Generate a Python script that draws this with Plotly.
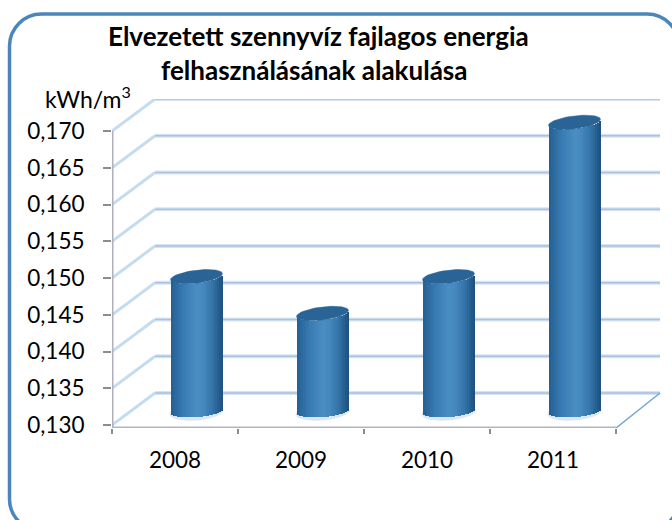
import numpy as np
import plotly.graph_objects as go

years = ["2008", "2009", "2010", "2011"]
values = [0.148, 0.143, 0.148, 0.169]
y_ticks = [0.130, 0.135, 0.140, 0.145, 0.150, 0.155, 0.160, 0.165, 0.170]
y_labels = ["0,130", "0,135", "0,140", "0,145", "0,150", "0,155", "0,160", "0,165", "0,170"]
title_lines = ["Elvezetett szennyvíz fajlagos energia", "felhasználásának alakulása"]
unit_label = "kWh/m<sup>3</sup>"

W, H = 672, 520
L, R, T, B = 112, 662, 99, 428      # plot box in pixels
PX_PER_CAT = 126.0
PX_PER_VAL = 294.0 / 0.04
Y0 = 0.130

dxu = lambda px: px / PX_PER_CAT
dyu = lambda px: px / PX_PER_VAL
y_min = Y0 - dyu(3)
y_max = y_min + dyu(B - T)
x_max = dxu(R - L)
DEPTH_X, DEPTH_Y = 43, 32
FONT = "Lato"

shapes = []


def seg(pts, color, width):
    path = "M" + " L".join(f"{x:.5f},{y:.6f}" for x, y in pts)
    shapes.append(dict(type="path", path=path, xref="x", yref="y", layer="below",
                       line=dict(color=color, width=width)))


# walls / gridlines
for v in y_ticks:
    back = v + dyu(DEPTH_Y)
    seg([(0, v), (dxu(DEPTH_X), back)], "#c3dcef", 3)
    seg([(dxu(DEPTH_X), back), (dxu(R - L - 2), back)], "#d6e4f2", 4)
for v in y_ticks:
    back = v + dyu(DEPTH_Y)
    seg([(dxu(DEPTH_X), back), (dxu(R - L - 2), back)], "#a9c2dd", 1.5)
seg([(4, y_min), (4 + dxu(44), Y0 + dyu(DEPTH_Y))], "#6fa6d6", 1.5)
seg([(0, y_min), (4, y_min)], "#b4b4c2", 3)
seg([(0, y_min), (0, y_ticks[-1])], "#b0b0bc", 3)

# outer rounded frame (paper coordinates)
px = lambda x: (x - L) / (R - L)
py = lambda y: (B - y) / (B - T)
fx0, fx1, fy0, fy1, rad = 9.5, 679, 14, 531, 32
k = rad * 0.45
frame = (
    f"M{px(fx0 + rad)},{py(fy0)} L{px(fx1 - rad)},{py(fy0)} "
    f"C{px(fx1 - k)},{py(fy0)} {px(fx1)},{py(fy0 + k)} {px(fx1)},{py(fy0 + rad)} "
    f"L{px(fx1)},{py(fy1 - rad)} "
    f"C{px(fx1)},{py(fy1 - k)} {px(fx1 - k)},{py(fy1)} {px(fx1 - rad)},{py(fy1)} "
    f"L{px(fx0 + rad)},{py(fy1)} "
    f"C{px(fx0 + k)},{py(fy1)} {px(fx0)},{py(fy1 - k)} {px(fx0)},{py(fy1 - rad)} "
    f"L{px(fx0)},{py(fy0 + rad)} "
    f"C{px(fx0)},{py(fy0 + k)} {px(fx0 + k)},{py(fy0)} {px(fx0 + rad)},{py(fy0)} Z"
)
shapes.append(dict(type="path", path=frame, xref="paper", yref="paper", layer="above",
                   line=dict(color="#4a86bb", width=3.5)))

# cylinders
A = 26.0        # half width, px
B_TOP, S_TOP = 6.5, 3.0
B_BOT, S_BOT = 6.0, 2.0
TOP_SHIFT, BASE_SHIFT = 16, 14
centers = [i + 0.5 + dxu(21.5) for i in range(len(years))]

grad_pos = [0.0, 0.06, 0.25, 0.5, 0.62, 0.8, 0.93, 1.0]
grad_rgb = np.array([
    [0x24, 0x5e, 0x90], [0x2a, 0x68, 0x9c], [0x38, 0x7c, 0xb4], [0x4a, 0x8e, 0xc3],
    [0x46, 0x89, 0xbe], [0x35, 0x74, 0xa8], [0x25, 0x5c, 0x8c], [0x1f, 0x50, 0x80],
])

fig = go.Figure()

# soft halo below each foot
for c in centers:
    t = np.linspace(0, 2 * np.pi, 40)
    xs = c + dxu(A + 1) * np.cos(t)
    ys = Y0 + dyu(BASE_SHIFT) + dyu(S_BOT) * np.cos(t) + dyu(B_BOT + 2.5) * np.sin(t) - dyu(1)
    path = "M" + " L".join(f"{x:.5f},{y:.6f}" for x, y in zip(xs, ys)) + " Z"
    shapes.append(dict(type="path", path=path, xref="x", yref="y", layer="below",
                       fillcolor="#dbe8f4", line=dict(width=0)))

N = 26
for j in range(N):
    u = (j + 0.5) / N * 2 - 1
    rgb = [np.interp((u + 1) / 2, grad_pos, grad_rgb[:, ch]) for ch in range(3)]
    color = "rgb(%d,%d,%d)" % tuple(rgb)
    root = np.sqrt(1 - u * u)
    base = Y0 + dyu(BASE_SHIFT) + dyu(S_BOT * u - B_BOT * root)
    tops = [v + dyu(TOP_SHIFT) + dyu(S_TOP * u) - dyu(B_TOP * root) for v in values]
    fig.add_trace(go.Bar(
        x=[c + u * dxu(A) for c in centers],
        y=[tp - base for tp in tops],
        base=[base] * len(values),
        width=dxu(2 * A / N),
        marker=dict(color=color, line=dict(width=0)),
        hoverinfo="skip", showlegend=False,
    ))

# cylinder caps
for c, v in zip(centers, values):
    t = np.linspace(0, 2 * np.pi, 60)
    fig.add_trace(go.Scatter(
        x=c + dxu(A) * np.cos(t),
        y=v + dyu(TOP_SHIFT) + dyu(S_TOP) * np.cos(t) + dyu(B_TOP) * np.sin(t),
        mode="lines", fill="toself", fillcolor="#2a6497",
        line=dict(color="#2a6497", width=0.5),
        hoverinfo="skip", showlegend=False,
    ))

annotations = [
    dict(text=title_lines[0], x=px(318), y=py(36), xref="paper", yref="paper",
         showarrow=False, xanchor="center", yanchor="middle",
         font=dict(family=FONT, size=26, color="#000000", weight="bold")),
    dict(text=title_lines[1], x=px(314), y=py(70), xref="paper", yref="paper",
         showarrow=False, xanchor="center", yanchor="middle",
         font=dict(family=FONT, size=26, color="#000000", weight="bold")),
    dict(text=unit_label, x=px(88), y=py(98), xref="paper", yref="paper",
         showarrow=False, xanchor="center", yanchor="middle",
         font=dict(family=FONT, size=23, color="#000000")),
]

fig.update_layout(
    width=W, height=H,
    margin=dict(l=L, r=W - R, t=T, b=H - B, pad=0),
    paper_bgcolor="#ffffff", plot_bgcolor="#ffffff",
    barmode="overlay", bargap=0,
    shapes=shapes, annotations=annotations,
    xaxis=dict(
        range=[0, x_max], showgrid=False, zeroline=False, showline=False,
        tickmode="array", tickvals=[i + 0.5 for i in range(len(years))], ticktext=years,
        ticks="", ticklabelstandoff=16,
        tickfont=dict(family=FONT, size=22.5, color="#000000"),
        minor=dict(tickmode="array", tickvals=list(range(len(years) + 1)),
                   ticks="outside", ticklen=5, tickwidth=1.5, tickcolor="#8c8c8c", showgrid=False),
    ),
    yaxis=dict(
        range=[y_min, y_max], showgrid=False, zeroline=False, showline=False,
        tickmode="array", tickvals=y_ticks, ticktext=y_labels,
        ticks="outside", ticklen=8, tickwidth=1.5, tickcolor="#8c8c8c", ticklabelstandoff=14,
        tickfont=dict(family=FONT, size=22.5, color="#000000"),
    ),
)

fig.write_html("out.html", post_script="document.body.style.margin='0';",
               config={"displayModeBar": False})
